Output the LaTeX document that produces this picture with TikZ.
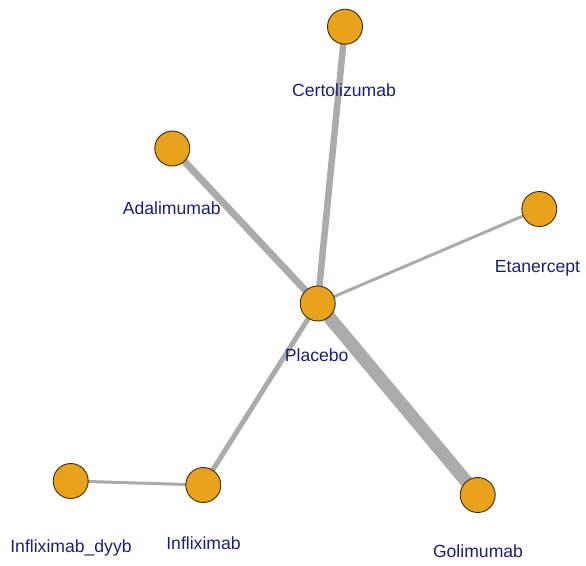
\documentclass[tikz,border=0pt]{standalone}
\usepackage{fontspec}
\setmainfont{Liberation Sans}
\definecolor{nodefill}{HTML}{E9A31B}
\definecolor{nodeline}{HTML}{3A2A10}
\definecolor{edgecol}{HTML}{ABABAB}
\definecolor{labcol}{HTML}{1C1C7C}
\begin{document}
\begin{tikzpicture}[x=1pt,y=-1pt,
  trt/.style={circle,draw=nodeline,line width=0.9pt,fill=nodefill,minimum size=35pt,inner sep=0pt},
  lab/.style={text=labcol,font=\fontsize{17.6}{20}\selectfont,inner sep=0pt},
  edge/.style={draw=edgecol}]
\useasboundingbox (0,0) rectangle (586,565);
\coordinate (cpla) at (317.7,303.5);
\coordinate (ccer) at (345,26.7);
\coordinate (cada) at (172.3,148.5);
\coordinate (ceta) at (539.3,209);
\coordinate (cgol) at (477.7,495);
\coordinate (cinf) at (203.3,485);
\coordinate (cdyy) at (70.7,481);
\path[edge,line width=6.5pt] (cpla) -- (ccer);
\path[edge,line width=7pt] (cpla) -- (cada);
\path[edge,line width=3pt] (cpla) -- (ceta);
\path[edge,line width=13pt] (cpla) -- (cgol);
\path[edge,line width=5pt] (cpla) -- (cinf);
\path[edge,line width=3pt] (cinf) -- (cdyy);
\node[trt] (pla) at (cpla) {};
\node[trt] (cer) at (ccer) {};
\node[trt] (ada) at (cada) {};
\node[trt] (eta) at (ceta) {};
\node[trt] (gol) at (cgol) {};
\node[trt] (inf) at (cinf) {};
\node[trt] (dyy) at (cdyy) {};
\node[lab] (lpla) at (316.7,355.7) {Placebo};
\node[lab] (lcer) at (344,90.7) {Certolizumab};
\node[lab] (lada) at (171.7,208.3) {Adalimumab};
\node[lab] (leta) at (537.5,268.3) {Etanercept};
\node[lab] (lgol) at (478,551) {Golimumab};
\node[lab] (linf) at (203.5,543.3) {Infliximab};
\node[lab] (ldyy) at (71,548) {Infliximab\_dyyb};
\end{tikzpicture}
\end{document}
